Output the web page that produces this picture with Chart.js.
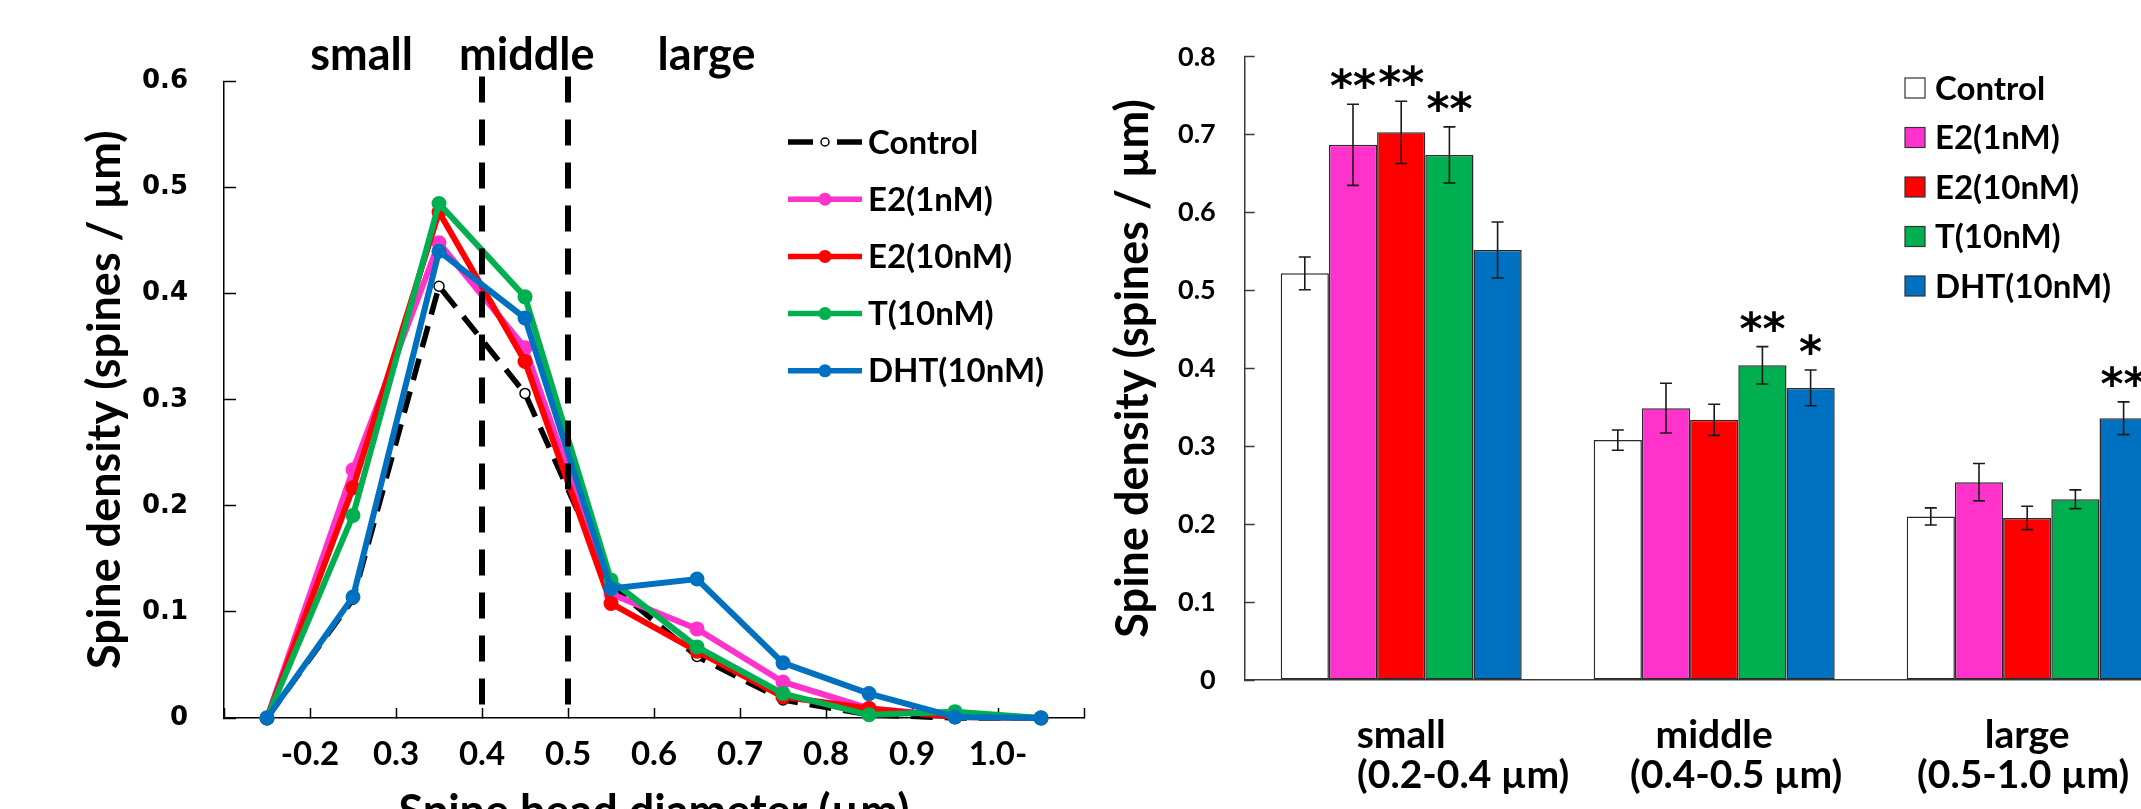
<!DOCTYPE html>
<html>
<head>
<meta charset="utf-8">
<script src="https://cdn.jsdelivr.net/npm/chart.js@4.4.1/dist/chart.umd.min.js"></script>
<style>
  html, body { margin: 0; padding: 0; background: #fff; }
  body { width: 2141px; height: 809px; overflow: hidden; position: relative; }
  #dist { position: absolute; left: 0; top: 0; }
  #bars { position: absolute; left: 1100px; top: 0; }
</style>
</head>
<body>
<canvas id="dist" width="1140" height="860"></canvas>
<canvas id="bars" width="1120" height="860"></canvas>
<script>
/* ---------- data: spine head diameter distribution (left) ---------- */
const binCenters = [0.5, 1.5, 2.5, 3.5, 4.5, 5.5, 6.5, 7.5, 8.5, 9.5];
const binEdgeLabels = ['-0.2', '0.3', '0.4', '0.5', '0.6', '0.7', '0.8', '0.9', '1.0-'];
const sizeBoundaries = [3, 4];           // the 0.4 and 0.5 edges
const sizeClasses = ['small', 'middle', 'large'];

const controlDist = [0, 0.112, 0.407, 0.306, 0.125, 0.058, 0.017, 0.003, 0, 0];
const e2LowDist   = [0, 0.234, 0.448, 0.349, 0.117, 0.084, 0.034, 0.009, 0.002, 0];
const e2HighDist  = [0, 0.217, 0.477, 0.336, 0.108, 0.063, 0.020, 0.009, 0.001, 0];
const tDist       = [0, 0.191, 0.485, 0.397, 0.130, 0.067, 0.023, 0.003, 0.006, 0];
const dhtDist     = [0, 0.114, 0.440, 0.377, 0.122, 0.131, 0.052, 0.023, 0.001, 0];

/* ---------- data: spine density by size class (right) ---------- */
const sizeGroups = ['small', 'middle', 'large'];
const sizeRanges = ['(0.2-0.4 \u00b5m)', '(0.4-0.5 \u00b5m)', '(0.5-1.0 \u00b5m)'];

const controlMean = [0.522, 0.308, 0.210];
const controlErr  = [0.021, 0.013, 0.011];
const e2LowMean   = [0.687, 0.349, 0.254];
const e2LowErr    = [0.052, 0.032, 0.024];
const e2HighMean  = [0.703, 0.334, 0.208];
const e2HighErr   = [0.040, 0.020, 0.015];
const tMean       = [0.674, 0.404, 0.232];
const tErr        = [0.036, 0.024, 0.012];
const dhtMean     = [0.552, 0.375, 0.336];
const dhtErr      = [0.036, 0.023, 0.021];

const controlSig = ['', '', ''];
const e2LowSig   = ['**', '', ''];
const e2HighSig  = ['**', '', ''];
const tSig       = ['**', '**', ''];
const dhtSig     = ['', '*', '**'];

const yTicksLeft  = [0, 0.6, 0.1];   // min, max, step
const yTicksRight = [0, 0.8, 0.1];

/* ---------- shared style ---------- */
const COLORS = { control: '#000000', e2Low: '#ff33cc', e2High: '#ff0000', t: '#00b050', dht: '#0070c0' };
const LABEL_FONT = 'Lato';
Chart.defaults.font.family = LABEL_FONT;
Chart.defaults.color = '#000';
Chart.defaults.animation = false;

const fmtTick = v => (v === 0 ? '0' : v.toFixed(1));
const pts = arr => binCenters.map((x, i) => ({ x, y: arr[i] }));

function lineSet(label, arr, color, order) {
  return {
    label, data: pts(arr), order, clip: false, tension: 0,
    borderColor: color, borderWidth: 6,
    pointRadius: 7.5, pointHoverRadius: 7.5,
    pointBackgroundColor: color, pointBorderColor: color, pointBorderWidth: 0
  };
}

/* ---------- left chart extras: boundary lines, size class names, legend ---------- */
const distExtras = {
  id: 'distExtras',
  afterDatasetsDraw(chart) {
    const { ctx, scales: { x, y } } = chart;
    ctx.save();
    ctx.strokeStyle = '#000';
    ctx.lineWidth = 6;
    ctx.setLineDash([26, 17]);
    sizeBoundaries.forEach(b => {
      const px = x.getPixelForValue(b);
      ctx.beginPath();
      ctx.moveTo(px, y.getPixelForValue(yTicksLeft[1]) - 5);
      ctx.lineTo(px, y.getPixelForValue(0));
      ctx.stroke();
    });
    ctx.restore();
  },
  afterDraw(chart) {
    const { ctx, scales: { x } } = chart;
    ctx.save();
    // size class headings above the plot
    const headAt = [1.6, 3.52, 5.61];
    ctx.font = `700 45px ${LABEL_FONT}`;
    ctx.fillStyle = '#000';
    ctx.textAlign = 'center';
    ctx.textBaseline = 'alphabetic';
    sizeClasses.forEach((s, i) => ctx.fillText(s, x.getPixelForValue(headAt[i]), 70));

    // legend
    const x0 = 788, x1 = 862, tx = 868, y0 = 142, dy = 57.2;
    ctx.textAlign = 'left';
    ctx.textBaseline = 'middle';
    ctx.font = `700 33px ${LABEL_FONT}`;
    chart.data.datasets.forEach((ds, i) => {
      const yy = y0 + i * dy;
      ctx.strokeStyle = ds.borderColor;
      ctx.lineWidth = 5.5;
      ctx.setLineDash(ds.borderDash ? [25, 24] : []);
      ctx.beginPath(); ctx.moveTo(x0, yy); ctx.lineTo(x1, yy); ctx.stroke();
      ctx.setLineDash([]);
      ctx.beginPath();
      ctx.arc((x0 + x1) / 2, yy, ds.borderDash ? 4 : 6.5, 0, Math.PI * 2);
      ctx.fillStyle = ds.pointBackgroundColor;
      ctx.fill();
      if (ds.borderDash) { ctx.lineWidth = 1.5; ctx.strokeStyle = '#000'; ctx.stroke(); }
      ctx.fillStyle = '#000';
      ctx.fillText(ds.label, tx, yy + 1);
    });
    ctx.restore();
  }
};

const controlLine = lineSet('Control', controlDist, COLORS.control, 5);
controlLine.borderDash = [22, 12];
controlLine.borderWidth = 5.5;
controlLine.pointRadius = 5;
controlLine.pointBackgroundColor = '#fff';
controlLine.pointBorderColor = '#000';
controlLine.pointBorderWidth = 1.5;

new Chart(document.getElementById('dist'), {
  type: 'line',
  data: {
    datasets: [
      controlLine,
      lineSet('E2(1nM)', e2LowDist, COLORS.e2Low, 4),
      lineSet('E2(10nM)', e2HighDist, COLORS.e2High, 3),
      lineSet('T(10nM)', tDist, COLORS.t, 2),
      lineSet('DHT(10nM)', dhtDist, COLORS.dht, 1)
    ]
  },
  options: {
    responsive: false,
    layout: { padding: { top: 81.5, left: 78, right: 56, bottom: 21 } },
    plugins: { legend: { display: false }, tooltip: { enabled: false } },
    scales: {
      x: {
        type: 'linear', min: 0, max: 10,
        afterFit: s => { s.height = 121; },
        border: { display: true, color: '#000', width: 1.5 },
        grid: { drawOnChartArea: false, drawTicks: true, tickLength: -10, color: '#000', tickWidth: 1.5 },
        ticks: {
          stepSize: 1, autoSkip: false, maxRotation: 0, padding: 27,
          font: { family: LABEL_FONT, size: 33, weight: 'bold' },
          callback: v => (v >= 1 && v <= binEdgeLabels.length ? binEdgeLabels[v - 1] : '')
        },
        title: { display: true, text: 'Spine head diameter (\u00b5m)', padding: 0,
                 font: { family: LABEL_FONT, size: 45, weight: 'bold' } }
      },
      y: {
        min: yTicksLeft[0], max: yTicksLeft[1],
        afterFit: s => { s.width = 146; },
        border: { display: true, color: '#000', width: 1.5 },
        grid: { drawOnChartArea: false, drawTicks: true, tickLength: -12, color: '#000', tickWidth: 1.5 },
        ticks: { stepSize: yTicksLeft[2], padding: 48, callback: fmtTick,
                 font: { family: 'DejaVu Sans', size: 26, weight: 'bold' } },
        title: { display: true, text: 'Spine density (spines / \u00b5m)', padding: 0,
                 font: { family: LABEL_FONT, size: 45, weight: 'bold' } }
      }
    }
  },
  plugins: [distExtras]
});

/* ---------- right chart extras: error bars, significance stars, labels, legend ---------- */
const barExtras = {
  id: 'barExtras',
  afterDatasetsDraw(chart) {
    const { ctx, scales: { y } } = chart;
    ctx.save();
    ctx.strokeStyle = '#1a1a1a';
    ctx.lineWidth = 1.6;
    chart.data.datasets.forEach((ds, i) => {
      const meta = chart.getDatasetMeta(i);
      meta.data.forEach((bar, j) => {
        const top = y.getPixelForValue(ds.data[j] + ds.errors[j]);
        const bot = y.getPixelForValue(ds.data[j] - ds.errors[j]);
        ctx.beginPath();
        ctx.moveTo(bar.x, top); ctx.lineTo(bar.x, bot);
        ctx.moveTo(bar.x - 6, top); ctx.lineTo(bar.x + 6, top);
        ctx.moveTo(bar.x - 6, bot); ctx.lineTo(bar.x + 6, bot);
        ctx.stroke();
      });
    });
    // significance marks
    ctx.fillStyle = '#000';
    ctx.font = '700 44px "DejaVu Sans"';
    ctx.textAlign = 'center';
    ctx.textBaseline = 'alphabetic';
    const desc = ctx.measureText('*').actualBoundingBoxDescent;
    chart.data.datasets.forEach((ds, i) => {
      const meta = chart.getDatasetMeta(i);
      meta.data.forEach((bar, j) => {
        if (!ds.stars[j]) return;
        const top = y.getPixelForValue(ds.data[j] + ds.errors[j]);
        ctx.fillText(ds.stars[j], bar.x, top - 15 - desc);
      });
    });
    ctx.restore();
  },
  afterDraw(chart) {
    const { ctx, scales: { x } } = chart;
    ctx.save();
    ctx.fillStyle = '#000';
    ctx.textAlign = 'center';
    ctx.textBaseline = 'alphabetic';
    ctx.font = `700 39px ${LABEL_FONT}`;
    const rangeShift = [62, 22, -4];
    sizeGroups.forEach((g, i) => {
      const cx = x.getPixelForValue(i);
      ctx.fillText(g, cx, 748);
      ctx.fillText(sizeRanges[i], cx + rangeShift[i], 788);
    });

    // legend
    const sx = 805, tx = 835, y0 = 88, dy = 49.5, sz = 20;
    ctx.textAlign = 'left';
    ctx.textBaseline = 'middle';
    ctx.font = `700 33px ${LABEL_FONT}`;
    chart.data.datasets.forEach((ds, i) => {
      const yy = y0 + i * dy;
      ctx.fillStyle = ds.backgroundColor;
      ctx.fillRect(sx, yy - sz / 2, sz, sz);
      ctx.strokeStyle = '#333';
      ctx.lineWidth = 1.2;
      ctx.strokeRect(sx, yy - sz / 2, sz, sz);
      ctx.fillStyle = '#000';
      ctx.fillText(ds.label, tx, yy + 1);
    });
    ctx.restore();
  }
};

function barSet(label, mean, err, stars, color) {
  return { label, data: mean, errors: err, stars, backgroundColor: color,
           borderColor: '#2b2b2b', borderWidth: 1.5, borderSkipped: false };
}

new Chart(document.getElementById('bars'), {
  type: 'bar',
  data: {
    labels: sizeGroups,
    datasets: [
      barSet('Control', controlMean, controlErr, controlSig, '#ffffff'),
      barSet('E2(1nM)', e2LowMean, e2LowErr, e2LowSig, COLORS.e2Low),
      barSet('E2(10nM)', e2HighMean, e2HighErr, e2HighSig, COLORS.e2High),
      barSet('T(10nM)', tMean, tErr, tSig, COLORS.t),
      barSet('DHT(10nM)', dhtMean, dhtErr, dhtSig, COLORS.dht)
    ]
  },
  options: {
    responsive: false,
    categoryPercentage: 0.77,
    barPercentage: 1.0,
    layout: { padding: { top: 56.8, left: 6, right: 36.3, bottom: 0 } },
    plugins: { legend: { display: false }, tooltip: { enabled: false } },
    scales: {
      x: {
        afterFit: s => { s.height = 180; },
        border: { display: true, color: '#3a3a3a', width: 1.5 },
        grid: { display: false },
        ticks: { display: false }
      },
      y: {
        min: yTicksRight[0], max: yTicksRight[1],
        afterFit: s => { s.width = 138.7; },
        border: { display: true, color: '#3a3a3a', width: 1.5 },
        grid: { drawOnChartArea: false, drawTicks: true, tickLength: -10, color: '#3a3a3a', tickWidth: 1.5 },
        ticks: { stepSize: yTicksRight[2], padding: 39, callback: fmtTick,
                 font: { family: LABEL_FONT, size: 27, weight: 'bold' } },
        title: { display: true, text: 'Spine density (spines / \u00b5m)', padding: 0,
                 font: { family: LABEL_FONT, size: 45, weight: 'bold' } }
      }
    }
  },
  plugins: [barExtras]
});
</script>
</body>
</html>
